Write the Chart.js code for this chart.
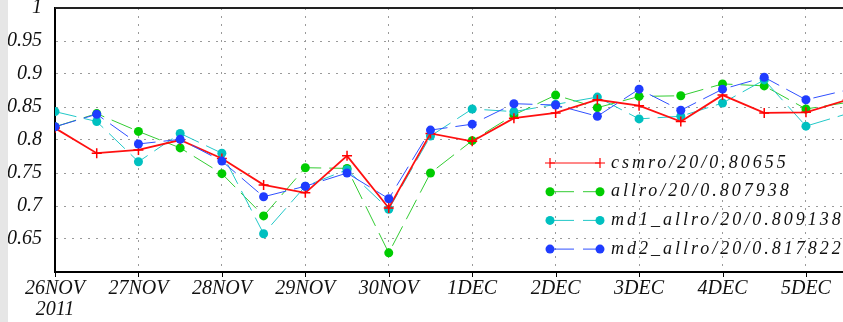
<!DOCTYPE html>
<html>
<head>
<meta charset="utf-8">
<script src="https://cdn.jsdelivr.net/npm/chart.js@4.4.1/dist/chart.umd.min.js"></script>
<style>
  html, body { margin: 0; padding: 0; background: #fff; }
  #wrap { width: 843px; height: 322px; }
</style>
</head>
<body>
<div id="wrap"><canvas id="scoreChart" width="843" height="322"></canvas></div>
<script>
// Un punto cada 12 horas desde el 26NOV 2011
const dayLabels = ['26NOV', '27NOV', '28NOV', '29NOV', '30NOV', '1DEC', '2DEC', '3DEC', '4DEC', '5DEC'];
const yearLabel = '2011';
const halfDays = [0, 0.5, 1, 1.5, 2, 2.5, 3, 3.5, 4, 4.5, 5, 5.5, 6, 6.5, 7, 7.5, 8, 8.5, 9, 9.5];
const yTickLabels = ['0.65', '0.7', '0.75', '0.8', '0.85', '0.9', '0.95', '1'];

const seriesNames = ['csmro/20/0.80655', 'allro/20/0.807938', 'md1_allro/20/0.809138', 'md2_allro/20/0.817822'];
const csmro = [0.818, 0.780, 0.785, 0.800, 0.772, 0.732, 0.720, 0.776, 0.697, 0.810, 0.798, 0.833, 0.841, 0.861, 0.852, 0.828, 0.868, 0.841, 0.842, 0.861];
const allro = [0.820, 0.840, 0.813, 0.788, 0.749, 0.685, 0.758, 0.757, 0.629, 0.750, 0.799, 0.838, 0.868, 0.849, 0.866, 0.867, 0.885, 0.882, 0.847, 0.857];
const md1Allro = [0.843, 0.828, 0.767, 0.810, 0.780, 0.658, 0.730, 0.755, 0.695, 0.806, 0.847, 0.843, 0.854, 0.865, 0.832, 0.836, 0.856, 0.891, 0.821, 0.840];
const md2Allro = [0.820, 0.839, 0.794, 0.801, 0.768, 0.714, 0.730, 0.750, 0.711, 0.815, 0.824, 0.855, 0.853, 0.836, 0.877, 0.845, 0.877, 0.895, 0.861, 0.876];

const tickFont = { family: '"Liberation Serif", serif', size: 20, style: 'italic', lineHeight: 1.05 };
const toPoints = values => values.map((v, i) => ({ x: halfDays[i], y: v }));

// Leyenda dibujada dentro del área, como en el original
const legendInside = {
    id: 'legendInside',
    afterDatasetsDraw(chart) {
        const ctx = chart.ctx;
        const x0 = 550, x1 = 600, textX = 611;
        chart.data.datasets.forEach((ds, i) => {
            const y = 163 + i * 28.7;
            ctx.save();
            ctx.strokeStyle = ds.borderColor;
            ctx.lineWidth = 1;
            ctx.setLineDash(ds.borderDash && ds.borderDash.length ? [24, 9] : []);
            ctx.beginPath();
            ctx.moveTo(x0, y);
            ctx.lineTo(x1, y);
            ctx.stroke();
            ctx.setLineDash([]);
            [x0, x1].forEach(px => {
                if (ds.pointStyle === 'cross') {
                    ctx.strokeStyle = ds.pointBorderColor;
                    ctx.lineWidth = 1.2;
                    ctx.beginPath();
                    ctx.moveTo(px, y - 5); ctx.lineTo(px, y + 5);
                    ctx.moveTo(px - 5, y); ctx.lineTo(px + 5, y);
                    ctx.stroke();
                } else {
                    ctx.fillStyle = ds.pointBackgroundColor;
                    ctx.beginPath();
                    ctx.arc(px, y, 4.5, 0, Math.PI * 2);
                    ctx.fill();
                }
            });
            ctx.fillStyle = '#111';
            ctx.font = 'italic 18px "Liberation Serif", serif';
            ctx.letterSpacing = '3px';
            ctx.textBaseline = 'middle';
            ctx.textAlign = 'left';
            ctx.fillText(ds.label, textX, y);
            ctx.restore();
        });
    }
};

const frame = {
    id: 'frame',
    afterDraw(chart) {
        const { ctx, chartArea } = chart;
        const xScale = chart.scales.x;
        ctx.save();
        // borde superior
        ctx.strokeStyle = '#222';
        ctx.lineWidth = 2;
        ctx.beginPath();
        ctx.moveTo(chartArea.left, chartArea.top);
        ctx.lineTo(chartArea.right, chartArea.top);
        ctx.stroke();
        // marcas del eje x
        ctx.lineWidth = 1;
        ctx.strokeStyle = '#000';
        xScale.ticks.forEach(t => {
            const px = Math.round(xScale.getPixelForValue(t.value)) + 0.5;
            ctx.beginPath();
            ctx.moveTo(px, chartArea.bottom);
            ctx.lineTo(px, chartArea.bottom + 5);
            ctx.stroke();
        });
        // franja gris a la izquierda
        ctx.fillStyle = '#e6e6e6';
        ctx.fillRect(0, 0, 8, chart.height);
        ctx.restore();
    }
};

new Chart(document.getElementById('scoreChart').getContext('2d'), {
    type: 'line',
    data: {
        datasets: [{
            label: seriesNames[0],
            data: toPoints(csmro),
            borderColor: '#ff1010',
            borderWidth: 1.8,
            pointStyle: 'cross',
            pointRadius: 5,
            pointBorderWidth: 1.5,
            pointBorderColor: '#ff0000',
            tension: 0,
            order: 1
        }, {
            label: seriesNames[1],
            data: toPoints(allro),
            borderColor: '#33cc33',
            borderWidth: 1,
            borderDash: [22, 8],
            pointStyle: 'circle',
            pointRadius: 4.5,
            pointBorderWidth: 0,
            pointBackgroundColor: '#00cc00',
            tension: 0,
            order: 3
        }, {
            label: seriesNames[2],
            data: toPoints(md1Allro),
            borderColor: '#22c8c8',
            borderWidth: 1,
            borderDash: [22, 8],
            pointStyle: 'circle',
            pointRadius: 4.5,
            pointBorderWidth: 0,
            pointBackgroundColor: '#00c0c0',
            tension: 0,
            order: 2
        }, {
            label: seriesNames[3],
            data: toPoints(md2Allro),
            borderColor: '#3050ff',
            borderWidth: 1,
            borderDash: [22, 8],
            pointStyle: 'circle',
            pointRadius: 4.5,
            pointBorderWidth: 0,
            pointBackgroundColor: '#1f3cff',
            tension: 0,
            order: 0
        }]
    },
    options: {
        responsive: false,
        animation: false,
        layout: { autoPadding: false, padding: { top: 8, left: 0, right: 0, bottom: 0 } },
        plugins: {
            legend: { display: false },
            tooltip: { enabled: false }
        },
        scales: {
            x: {
                type: 'linear',
                min: 0,
                max: 9.444,
                afterBuildTicks: scale => {
                    scale.ticks = dayLabels.map((_, i) => ({ value: i }));
                },
                afterFit: scale => {
                    scale.height = 50;
                    scale.paddingLeft = 0;
                    scale.paddingRight = 0;
                },
                grid: { color: '#9a9a9a', lineWidth: 1, drawTicks: false },
                border: { color: '#000', width: 2, dash: [2, 6] },
                ticks: {
                    font: tickFont,
                    color: '#111',
                    padding: 6,
                    maxRotation: 0,
                    autoSkip: false,
                    callback: (value, index) => index === 0 ? [dayLabels[0], yearLabel] : dayLabels[index]
                }
            },
            y: {
                min: 0.6,
                max: 1,
                afterBuildTicks: scale => {
                    scale.ticks = yTickLabels.map(v => ({ value: Number(v) }));
                },
                afterFit: scale => {
                    scale.width = 55;
                    scale.paddingTop = 0;
                    scale.paddingBottom = 0;
                },
                grid: { color: '#9a9a9a', lineWidth: 1, drawTicks: false },
                border: { color: '#000', width: 2, dash: [2, 6] },
                ticks: {
                    font: tickFont,
                    color: '#111',
                    padding: 13,
                    callback: (value, index) => yTickLabels[index]
                }
            }
        }
    },
    plugins: [legendInside, frame]
});
</script>
</body>
</html>
